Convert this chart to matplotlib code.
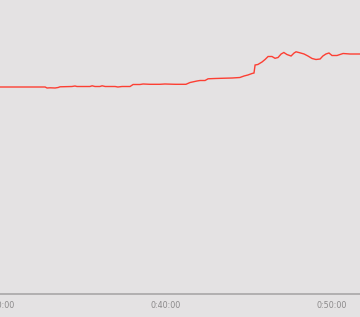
import matplotlib
matplotlib.use("Agg")
import matplotlib.pyplot as plt
from matplotlib.ticker import FuncFormatter

# elapsed time (s) and value
times = [1800, 1963, 1970, 1981, 1999, 2010, 2017, 2060, 2071, 2078,
         2125, 2133, 2143, 2161, 2169, 2180, 2216, 2226, 2241, 2270,
         2281, 2306, 2317, 2342, 2378, 2396, 2433, 2472, 2487, 2512,
         2523, 2541, 2552, 2577, 2613, 2639, 2667, 2682, 2696, 2711,
         2718, 2722, 2732, 2747, 2758, 2769, 2783, 2794, 2805, 2816,
         2826, 2837, 2852, 2863, 2870, 2884, 2899, 2913, 2928, 2942,
         2957, 2967, 2978, 2989, 3000, 3018, 3029, 3040, 3065, 3101]
values = [207.0, 207.0, 206.0, 206.2, 206.0, 206.5, 207.2, 207.5, 208.0, 207.5,
          207.5, 208.2, 207.5, 207.5, 208.2, 207.5, 207.5, 207.0, 207.5, 207.5,
          209.5, 209.5, 210.0, 209.7, 209.7, 210.0, 209.7, 209.7, 211.5, 213.0,
          213.5, 213.5, 215.2, 215.5, 215.8, 216.0, 216.5, 218.0, 219.0, 220.5,
          221.0, 229.0, 229.5, 232.0, 234.5, 237.5, 237.5, 235.7, 236.5, 240.0,
          241.5, 239.5, 238.0, 241.0, 242.2, 241.2, 240.0, 238.0, 235.5, 234.5,
          235.0, 238.0, 240.0, 241.0, 238.5, 238.5, 239.5, 240.5, 240.0, 240.0]
tick_secs = [1800, 2400, 3000]

bg = "#e4e2e3"

def hms(s, pos=None):
    s = int(round(s))
    return "%d:%02d:%02d" % (s // 3600, (s % 3600) // 60, s % 60)

fig = plt.figure(figsize=(3.6, 3.17), dpi=100)
fig.patch.set_facecolor(bg)
ax = fig.add_axes([0, 23 / 317, 1, 294 / 317])
ax.set_facecolor(bg)

ax.plot(times, values, color="#ff2d20", lw=1.0, alpha=0.9, solid_joinstyle="miter")

ax.set_xlim(1799.9, 1800 + 360 * 600 / 166)
ax.set_ylim(0, 294)
ax.set_xticks(tick_secs)
ax.xaxis.set_major_formatter(FuncFormatter(hms))
ax.tick_params(axis="x", length=0, pad=5, labelsize=5.8, labelcolor="#8c8a8b")
ax.set_yticks([])
for side in ["top", "left", "right"]:
    ax.spines[side].set_visible(False)
ax.spines["bottom"].set_color("#a9a7a8")
ax.spines["bottom"].set_linewidth(1.2)

fig.savefig("out.png", dpi=100, facecolor=bg)
